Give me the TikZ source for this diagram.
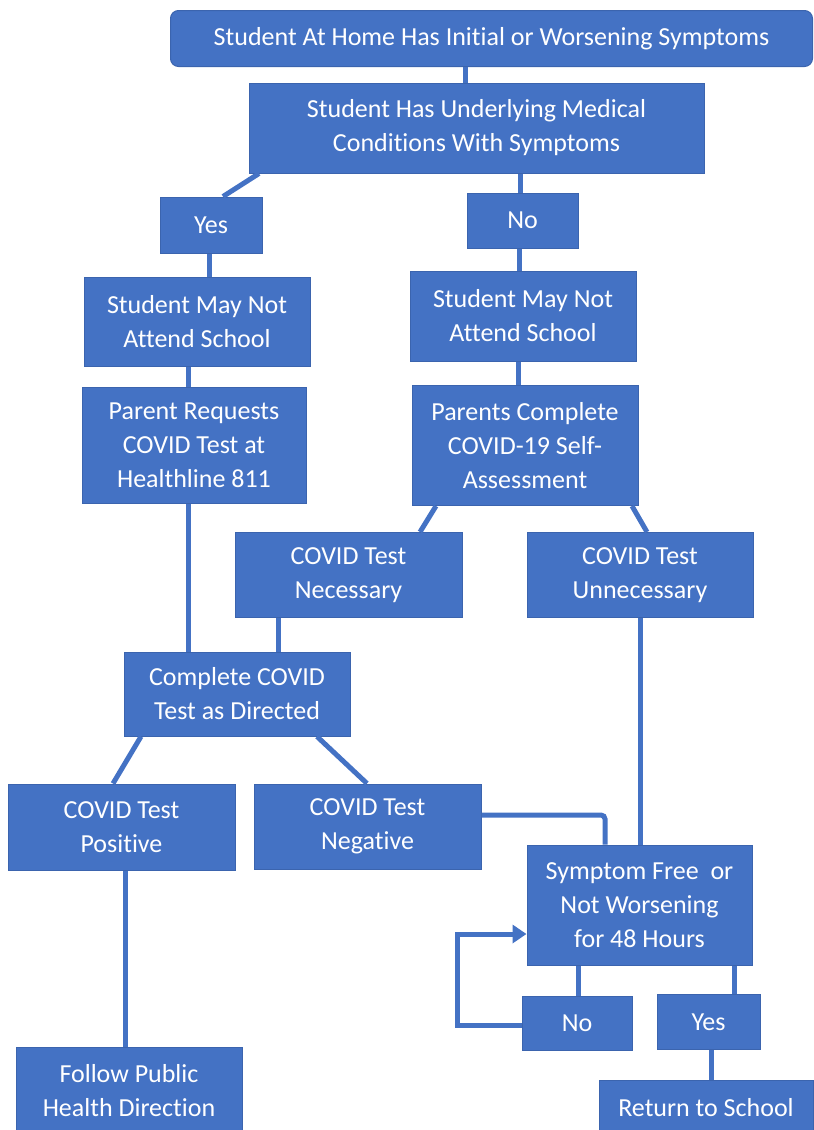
\documentclass[tikz,border=0pt]{standalone}
\usepackage{fontspec}
\setmainfont{Carlito}[Ligatures=NoCommon]
\usetikzlibrary{arrows.meta}
\definecolor{boxblue}{HTML}{4472C4}
\definecolor{edgeblue}{HTML}{3B64AE}
\tikzset{
  box/.style={draw=edgeblue, line width=1pt, fill=boxblue, text=white, align=center,
    font=\fontsize{26}{34}\selectfont, inner sep=0pt},
  conn/.style={draw=boxblue, line width=5pt},
}
\newcommand{\bx}[6]{\node[box, minimum width=#4pt, minimum height=#5pt] (#1) at (#2,#3) {#6};}
\begin{document}
\begin{tikzpicture}[x=1pt,y=-1pt]
\useasboundingbox (0,0) rectangle (814,1130);
\clip (0,0) rectangle (814,1130);
% boxes
\node[box, rounded corners=8pt, minimum width=642pt, minimum height=56pt] (top) at (491.5,38.5) {Student At Home Has Initial or Worsening Symptoms};
\bx{b2}{476.5}{128}{455}{90}{Student Has Underlying Medical\\Conditions With Symptoms}
\bx{yesL}{211}{225}{102}{56}{Yes}
\bx{noR}{522.5}{220.5}{111}{55}{No}
\bx{smnaL}{197}{322}{226}{89}{Student May Not\\Attend School}
\bx{smnaR}{523}{316}{226}{90}{Student May Not\\Attend School}
\bx{prq}{194}{445}{224}{116}{Parent Requests\\COVID Test at\\Healthline 811}
\bx{pcs}{525}{445.5}{226}{120}{Parents Complete\\COVID-19 Self-\\Assessment}
\bx{nec}{348.5}{575}{227}{85}{COVID Test\\Necessary}
\bx{unn}{640}{575}{226}{85}{COVID Test\\Unnecessary}
\bx{ctd}{237}{694}{226}{84}{Complete COVID\\Test as Directed}
\bx{pos}{121.5}{827}{227}{86}{COVID Test\\Positive}
\bx{neg}{367.5}{826.5}{227}{85}{COVID Test\\Negative}
\bx{sf}{639.5}{905}{225}{120}{Symptom Free\ \ or\\Not Worsening\\for 48 Hours}
\bx{noB}{577}{1023.5}{110}{54}{No}
\bx{yesB}{708.5}{1022}{103}{55}{Yes}
\bx{fph}{129}{1091}{226}{88}{Follow Public\\Health Direction}
\bx{rts}{706}{1108}{214}{56}{Return to School}
% connectors
\draw[conn] (top.south -| 465,0) -- (b2.north -| 465,0);
\draw[conn] (b2.south -| 259,0) -- (yesL.north -| 223,0);
\draw[conn] (b2.south -| 520,0) -- (noR.north -| 520,0);
\draw[conn] (yesL.south -| 209,0) -- (smnaL.north -| 209,0);
\draw[conn] (noR.south -| 519,0) -- (smnaR.north -| 519,0);
\draw[conn] (smnaL.south -| 188,0) -- (prq.north -| 188,0);
\draw[conn] (smnaR.south -| 518,0) -- (pcs.north -| 518,0);
\draw[conn] (pcs.south -| 436,0) -- (nec.north -| 420,0);
\draw[conn] (pcs.south -| 632,0) -- (unn.north -| 647,0);
\draw[conn] (prq.south -| 188,0) -- (ctd.north -| 188,0);
\draw[conn] (nec.south -| 278,0) -- (ctd.north -| 278,0);
\draw[conn] (ctd.south -| 141,0) -- (pos.north -| 113,0);
\draw[conn] (ctd.south -| 317,0) -- (neg.north -| 367,0);
\draw[conn] (unn.south -| 640,0) -- (sf.north -| 640,0);
\draw[conn, rounded corners=4pt] (neg.east |- 0,815) -| (sf.north -| 605,0);
\draw[conn] (sf.south -| 578,0) -- (noB.north -| 578,0);
\draw[conn] (sf.south -| 734,0) -- (yesB.north -| 734,0);
\draw[conn] (pos.south -| 125,0) -- (fph.north -| 125,0);
\draw[conn] (yesB.south -| 711,0) -- (rts.north -| 711,0);
\draw[conn, -{Triangle[length=14pt,width=18pt]}] (noB.west |- 0,1025) -| (457,934) -- (sf.west |- 0,934);
\end{tikzpicture}
\end{document}
